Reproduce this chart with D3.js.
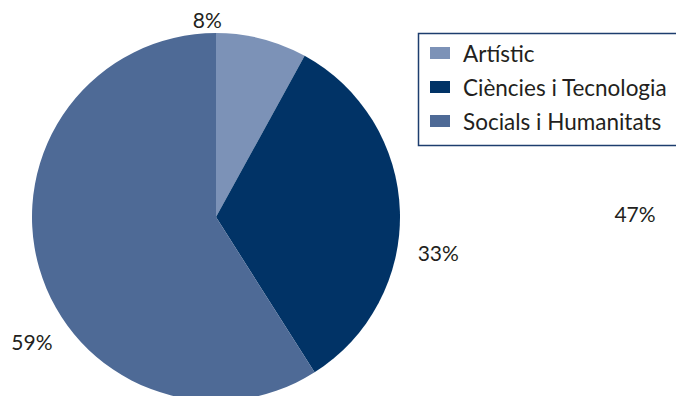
<!DOCTYPE html>
<html>
<head>
<meta charset="utf-8">
<script src="https://cdn.jsdelivr.net/npm/d3@7"></script>
<style>
  body { margin: 0; background: #fff; overflow: hidden; }
  svg { display: block; font-family: Lato, "Open Sans", sans-serif; }
</style>
</head>
<body>
<svg id="chart"></svg>
<script>
// data
const categories = ["Artístic", "Ciències i Tecnologia", "Socials i Humanitats"]
const values = [8, 33, 59]
const labels = ["8%", "33%", "59%"]
// stray label that sits on the right in the original
const extraLabels = ["47%"]

const colors = ["#7c92b7", "#013366", "#4e6a96"]

// label placement: angle (deg, clockwise from top) and distance from centre
const labelPos = [[-2.5, 198], [99, 225], [236, 222]]
const extraPos = [[635, 213]]

const width = 676, height = 396
const cx = 216, cy = 217, radius = 184

const svg = d3.select("#chart")
              .attr("width", width)
              .attr("height", height)

const g = svg.append("g")
             .attr("transform", `translate(${cx},${cy})`)

const pie = d3.pie().sort(null).value(d => d)
const arc = d3.arc().innerRadius(0).outerRadius(radius)

const arcs = pie(values)

g.selectAll("path")
  .data(arcs)
  .join("path")
  .attr("d", arc)
  .attr("fill", (d, i) => colors[i])

g.selectAll("text.lbl")
  .data(arcs)
  .join("text")
  .attr("class", "lbl")
  .attr("x", (d, i) => Math.sin(labelPos[i][0] * Math.PI / 180) * labelPos[i][1])
  .attr("y", (d, i) => -Math.cos(labelPos[i][0] * Math.PI / 180) * labelPos[i][1])
  .attr("text-anchor", "middle")
  .attr("dominant-baseline", "central")
  .style("font-size", "21px")
  .style("fill", "#231f20")
  .text((d, i) => labels[i])

svg.selectAll("text.extra")
  .data(extraLabels)
  .join("text")
  .attr("class", "extra")
  .attr("x", (d, i) => extraPos[i][0])
  .attr("y", (d, i) => extraPos[i][1])
  .attr("text-anchor", "middle")
  .attr("dominant-baseline", "central")
  .style("font-size", "21px")
  .style("fill", "#231f20")
  .text(d => d)

// legend
const legend = svg.append("g").attr("transform", "translate(418,33)")

legend.append("rect")
  .attr("x", 0.5)
  .attr("y", 0.5)
  .attr("width", 330)
  .attr("height", 112)
  .attr("fill", "none")
  .attr("stroke", "#1d3d6e")
  .attr("stroke-width", 1.5)

const rows = legend.selectAll("g.row")
  .data(categories)
  .join("g")
  .attr("class", "row")
  .attr("transform", (d, i) => `translate(0,${20 + i * 34})`)

rows.append("rect")
  .attr("x", 12)
  .attr("y", -6)
  .attr("width", 20)
  .attr("height", 12)
  .attr("fill", (d, i) => colors[i])

rows.append("text")
  .attr("x", 45)
  .attr("y", 0)
  .attr("dominant-baseline", "central")
  .style("font-size", "22.5px")
  .style("fill", "#231f20")
  .text(d => d)
</script>
</body>
</html>
